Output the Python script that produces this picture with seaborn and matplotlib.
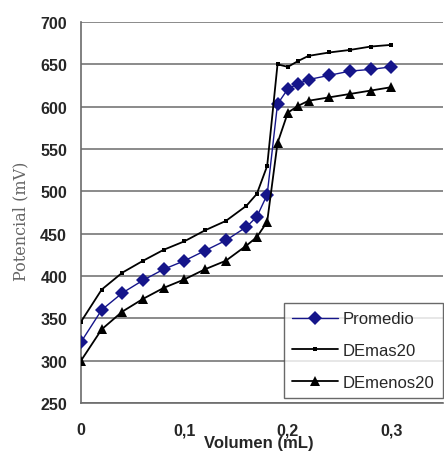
import matplotlib
matplotlib.use("Agg")
import matplotlib.pyplot as plt
import seaborn as sns
import pandas as pd

volumen = [0, 0.02, 0.04, 0.06, 0.08, 0.10, 0.12, 0.14, 0.16, 0.17, 0.18,
           0.19, 0.20, 0.21, 0.22, 0.24, 0.26, 0.28, 0.30]
promedio = [322, 360, 380, 395, 408, 418, 430, 442, 458, 470, 496,
            603, 621, 627, 632, 637, 642, 644, 647]
demas20 = [346, 384, 404, 418, 431, 441, 454, 465, 483, 497, 530,
           650, 647, 654, 660, 664, 667, 671, 673]
demenos20 = [300, 337, 358, 373, 386, 396, 408, 418, 436, 446, 464,
             557, 593, 601, 607, 611, 615, 619, 623]
series_names = ["Promedio", "DEmas20", "DEmenos20"]
y_ticks = [250, 300, 350, 400, 450, 500, 550, 600, 650, 700]
x_ticks = [0, 0.1, 0.2, 0.3]
x_tick_labels = ["0", "0,1", "0,2", "0,3"]

df = pd.DataFrame({
    "Volumen": volumen * 3,
    "Potencial": promedio + demas20 + demenos20,
    "Serie": [series_names[0]] * len(volumen) + [series_names[1]] * len(volumen)
             + [series_names[2]] * len(volumen),
})

sns.set_style("white")
plt.rcParams["font.family"] = ["Liberation Sans", "DejaVu Sans"]

fig = plt.figure(figsize=(4.44, 4.52), dpi=100)
ax = fig.add_axes([81 / 444, 1 - 404 / 452, 1 - 81 / 444 - 1 / 444, (404 - 23) / 452])

palette = {"Promedio": "#15158a", "DEmas20": "black", "DEmenos20": "black"}
markers = {"Promedio": "D", "DEmas20": "s", "DEmenos20": "^"}
sizes = {"Promedio": 7.5, "DEmas20": 3.5, "DEmenos20": 6.5}
lws = {"Promedio": 1.0, "DEmas20": 1.3, "DEmenos20": 1.3}

for name in series_names:
    sub = df[df["Serie"] == name]
    sns.lineplot(data=sub, x="Volumen", y="Potencial", ax=ax, color=palette[name],
                 marker=markers[name], markersize=sizes[name], linewidth=lws[name],
                 markeredgewidth=0, label=name, estimator=None, sort=False, zorder=3)

ax.set_xlim(0, 0.35)
ax.set_ylim(250, 700)
ax.set_yticks(y_ticks)
ax.set_xticks(x_ticks)
ax.set_xticklabels(x_tick_labels)
ax.yaxis.grid(True, color="#6b6b6b", linewidth=1.1)
ax.set_axisbelow(True)
for s in ["top", "right"]:
    ax.spines[s].set_visible(False)
for s in ["left", "bottom"]:
    ax.spines[s].set_color("#6b6b6b")
    ax.spines[s].set_linewidth(1.2)
ax.tick_params(axis="both", direction="out", length=5, width=1, color="#6b6b6b",
               labelsize=11.5, pad=5)
for lab in ax.get_xticklabels() + ax.get_yticklabels():
    lab.set_fontweight("bold")
ax.tick_params(axis="x", pad=9)

ax.set_xlabel("Volumen (mL)", fontsize=12, fontweight="bold")
ax.xaxis.set_label_coords(0.49, -0.085)
ax.xaxis.label.set_va("top")
ax.set_ylabel("Potencial (mV)", fontsize=11.5, family=["DejaVu Serif"], color="#666666")
ax.yaxis.label.set_va("center")
ax.yaxis.set_label_coords(-0.166, 0.48)

leg = ax.legend(loc="lower right", bbox_to_anchor=(1.0, 0.013), frameon=True,
                fancybox=False, fontsize=12, handlelength=2.75, labelspacing=1.0,
                borderpad=0.5, handletextpad=0.3, borderaxespad=0.0)
leg.get_frame().set_edgecolor("#444444")
leg.get_frame().set_linewidth(1)

fig.savefig("out.png", dpi=100)
